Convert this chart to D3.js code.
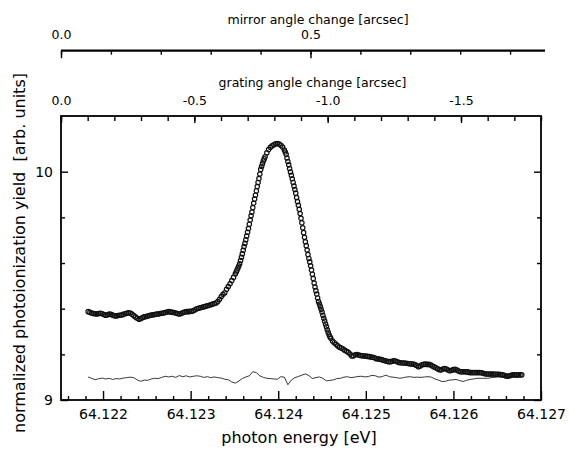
<!DOCTYPE html>
<html>
<head>
<meta charset="utf-8">
<script src="https://cdn.jsdelivr.net/npm/d3@7"></script>
<style>
  body { margin: 0; background: #fff; }
  svg text { font-family: 'DejaVu Sans', sans-serif; fill: #000; }
</style>
</head>
<body>
<svg id="chart"></svg>
<script>
const W = 569, H = 454;

// open circles: [photon energy (eV), normalized yield]
const measured = [
  [64.12183,9.387],[64.12185,9.384],[64.12187,9.381],[64.12189,9.379],[64.12191,9.378],[64.12193,9.377],[64.12195,9.379],[64.12197,9.380],[64.12199,9.378],[64.12201,9.374],
  [64.12203,9.371],[64.12205,9.373],[64.12207,9.376],[64.12209,9.375],[64.12211,9.372],[64.12213,9.369],[64.12215,9.368],[64.12217,9.370],[64.12219,9.371],[64.12221,9.372],
  [64.12223,9.375],[64.12225,9.378],[64.12227,9.380],[64.12229,9.382],[64.12231,9.381],[64.12233,9.376],[64.12235,9.370],[64.12237,9.364],[64.12239,9.358],[64.12241,9.354],
  [64.12243,9.356],[64.12245,9.361],[64.12247,9.364],[64.12249,9.366],[64.12251,9.368],[64.12253,9.370],[64.12255,9.372],[64.12257,9.373],[64.12259,9.374],[64.12261,9.376],
  [64.12263,9.377],[64.12265,9.379],[64.12267,9.380],[64.12269,9.381],[64.12271,9.383],[64.12273,9.385],[64.12275,9.387],[64.12277,9.386],[64.12279,9.384],[64.12281,9.383],
  [64.12283,9.381],[64.12285,9.379],[64.12287,9.377],[64.12289,9.379],[64.12291,9.382],[64.12293,9.385],[64.12295,9.387],[64.12297,9.387],[64.12299,9.388],[64.12301,9.389],
  [64.12303,9.391],[64.12305,9.395],[64.12307,9.400],[64.12309,9.402],[64.12311,9.404],[64.12313,9.406],[64.12315,9.408],[64.12317,9.410],[64.12319,9.413],[64.12321,9.415],
  [64.12323,9.417],[64.12325,9.420],[64.12327,9.423],[64.12329,9.425],[64.12331,9.431],[64.12333,9.441],[64.12335,9.453],[64.12337,9.463],
  [64.12339,9.470],[64.12341,9.485],[64.12343,9.497],[64.12345,9.509],[64.12347,9.523],[64.12349,9.537],[64.12351,9.552],
  [64.12352,9.561],[64.12353,9.569],[64.12354,9.578],[64.12355,9.587],[64.12356,9.597],[64.12357,9.611],[64.12358,9.625],[64.12359,9.640],[64.12360,9.656],
  [64.12361,9.672],[64.12362,9.686],[64.12363,9.702],[64.12364,9.718],[64.12365,9.735],[64.12366,9.751],[64.12367,9.770],[64.12368,9.788],[64.12369,9.807],
  [64.12370,9.823],[64.12371,9.843],[64.12372,9.862],[64.12373,9.880],[64.12374,9.897],[64.12375,9.916],[64.12376,9.935],[64.12377,9.953],[64.12378,9.970],
  [64.12379,9.990],[64.12380,10.010],[64.12381,10.023],[64.12382,10.035],[64.12383,10.047],[64.12384,10.056],[64.12385,10.065],
  [64.12387,10.083],[64.12389,10.097],[64.12391,10.107],[64.12393,10.113],[64.12395,10.118],[64.12397,10.122],[64.12399,10.123],
  [64.12401,10.121],[64.12403,10.116],[64.12405,10.108],[64.12407,10.095],
  [64.12408,10.086],[64.12409,10.076],[64.12410,10.060],[64.12411,10.045],[64.12412,10.030],[64.12413,10.014],[64.12414,9.999],[64.12415,9.984],
  [64.12416,9.969],[64.12417,9.953],[64.12418,9.937],[64.12419,9.922],[64.12420,9.906],[64.12421,9.887],[64.12422,9.869],[64.12423,9.853],
  [64.12424,9.835],[64.12425,9.817],[64.12426,9.796],[64.12427,9.776],[64.12428,9.754],[64.12429,9.733],[64.12430,9.713],[64.12431,9.693],
  [64.12432,9.676],[64.12433,9.657],[64.12434,9.637],[64.12435,9.620],[64.12436,9.605],[64.12437,9.588],[64.12438,9.569],[64.12439,9.551],
  [64.12440,9.532],[64.12441,9.512],[64.12442,9.495],[64.12443,9.479],[64.12444,9.464],[64.12445,9.447],[64.12446,9.431],[64.12447,9.420],
  [64.12448,9.409],[64.12449,9.397],[64.12450,9.385],[64.12451,9.371],[64.12452,9.358],[64.12453,9.346],[64.12454,9.333],[64.12455,9.321],
  [64.12456,9.308],[64.12457,9.297],[64.12458,9.286],[64.12459,9.277],[64.12460,9.270],
  [64.12462,9.258],[64.12464,9.251],[64.12466,9.244],[64.12468,9.237],[64.12470,9.231],[64.12472,9.228],[64.12474,9.223],[64.12476,9.218],[64.12478,9.213],[64.12480,9.209],
  [64.12482,9.201],[64.12484,9.193],[64.12486,9.194],[64.12488,9.198],[64.12490,9.199],[64.12492,9.197],[64.12494,9.195],[64.12496,9.194],[64.12498,9.193],[64.12500,9.193],
  [64.12502,9.191],[64.12504,9.190],[64.12506,9.188],[64.12508,9.187],[64.12510,9.185],[64.12512,9.181],[64.12514,9.180],[64.12516,9.178],[64.12518,9.177],[64.12520,9.174],
  [64.12522,9.172],[64.12524,9.170],[64.12526,9.168],[64.12528,9.168],[64.12530,9.170],[64.12532,9.172],[64.12534,9.171],[64.12536,9.167],[64.12538,9.164],[64.12540,9.163],
  [64.12542,9.162],[64.12544,9.162],[64.12546,9.161],[64.12548,9.160],[64.12550,9.159],[64.12552,9.158],[64.12554,9.158],[64.12556,9.155],[64.12558,9.151],[64.12560,9.146],
  [64.12562,9.149],[64.12564,9.154],[64.12566,9.156],[64.12568,9.157],[64.12570,9.156],[64.12572,9.156],[64.12574,9.154],[64.12576,9.149],[64.12578,9.145],[64.12580,9.141],
  [64.12582,9.137],[64.12584,9.133],[64.12586,9.132],[64.12588,9.136],[64.12590,9.138],[64.12592,9.136],[64.12594,9.131],[64.12596,9.128],[64.12598,9.130],[64.12600,9.133],
  [64.12602,9.134],[64.12604,9.131],[64.12606,9.127],[64.12608,9.124],[64.12610,9.124],[64.12612,9.124],[64.12614,9.124],[64.12616,9.123],[64.12618,9.121],[64.12620,9.120],
  [64.12622,9.120],[64.12624,9.120],[64.12626,9.120],[64.12628,9.120],[64.12630,9.120],[64.12632,9.119],[64.12634,9.117],[64.12636,9.115],[64.12638,9.114],[64.12640,9.114],
  [64.12642,9.114],[64.12644,9.114],[64.12646,9.114],[64.12648,9.113],[64.12650,9.113],[64.12652,9.113],[64.12654,9.112],[64.12656,9.110],[64.12658,9.108],[64.12660,9.105],
  [64.12662,9.104],[64.12664,9.106],[64.12666,9.108],[64.12668,9.110],[64.12670,9.110],[64.12672,9.109],[64.12674,9.110],[64.12676,9.110],[64.12678,9.110]
];

// thin trace near the bottom
const trace = [
  [64.12183,9.101],[64.12187,9.095],[64.12191,9.089],[64.12195,9.093],[64.12199,9.096],[64.12203,9.092],[64.12207,9.095],[64.12211,9.090],[64.12215,9.094],[64.12219,9.092],
  [64.12223,9.096],[64.12227,9.098],[64.12231,9.100],[64.12235,9.098],[64.12239,9.088],[64.12243,9.082],[64.12247,9.087],[64.12251,9.086],[64.12255,9.092],[64.12259,9.095],
  [64.12263,9.094],[64.12267,9.099],[64.12271,9.104],[64.12275,9.101],[64.12279,9.104],[64.12283,9.099],[64.12287,9.107],[64.12291,9.102],[64.12295,9.106],[64.12299,9.101],
  [64.12303,9.104],[64.12307,9.106],[64.12311,9.104],[64.12315,9.099],[64.12319,9.102],[64.12323,9.098],[64.12327,9.101],[64.12331,9.098],[64.12335,9.096],[64.12339,9.091],
  [64.12343,9.089],[64.12347,9.079],[64.12351,9.074],[64.12355,9.083],[64.12359,9.094],[64.12363,9.101],[64.12367,9.106],[64.12371,9.124],[64.12375,9.120],[64.12379,9.106],
  [64.12383,9.099],[64.12387,9.095],[64.12391,9.094],[64.12395,9.092],[64.12399,9.091],[64.12403,9.102],[64.12407,9.100],[64.12411,9.067],[64.12415,9.087],[64.12419,9.098],
  [64.12423,9.103],[64.12427,9.109],[64.12431,9.114],[64.12435,9.107],[64.12439,9.094],[64.12443,9.098],[64.12447,9.101],[64.12451,9.095],[64.12455,9.084],[64.12459,9.086],
  [64.12463,9.088],[64.12467,9.094],[64.12471,9.095],[64.12475,9.100],[64.12479,9.102],[64.12483,9.098],[64.12487,9.100],[64.12491,9.103],[64.12495,9.104],[64.12499,9.101],
  [64.12503,9.103],[64.12507,9.108],[64.12511,9.106],[64.12515,9.100],[64.12519,9.103],[64.12523,9.109],[64.12527,9.102],[64.12531,9.100],[64.12535,9.098],[64.12539,9.095],
  [64.12543,9.098],[64.12547,9.101],[64.12551,9.102],[64.12555,9.099],[64.12559,9.100],[64.12563,9.099],[64.12567,9.101],[64.12571,9.102],[64.12575,9.100],[64.12579,9.092],
  [64.12583,9.087],[64.12587,9.081],[64.12591,9.082],[64.12595,9.087],[64.12599,9.088],[64.12603,9.090],[64.12607,9.085],[64.12611,9.081],[64.12615,9.086],[64.12619,9.090],
  [64.12623,9.092],[64.12627,9.095],[64.12631,9.095],[64.12635,9.095],[64.12639,9.095],[64.12643,9.098],[64.12647,9.099],[64.12651,9.101],[64.12655,9.100],[64.12659,9.102],
  [64.12663,9.103],[64.12667,9.102],[64.12671,9.104],[64.12675,9.105]
];

const energyMajor = [64.122, 64.123, 64.124, 64.125, 64.126, 64.127];
const yieldMajor = [9, 10];
const yieldMinor = [9.2, 9.4, 9.6, 9.8];
const gratingMajor = [0, -0.5, -1.0, -1.5];
const mirrorMajor = [0, 0.5];

const svg = d3.select('#chart').attr('width', W).attr('height', H);
svg.append('rect').attr('width', W).attr('height', H).attr('fill', '#fff');

const padL = 61, padR = 541, padT = 116, padB = 400;

const x = d3.scaleLinear().domain([64.12152, 64.127]).range([padL, padR]);
const y = d3.scaleLinear().domain([9, 10.244]).range([padB, padT]);
const xGrat = d3.scaleLinear().domain([0, -1.8]).range([padL, padR]);
const xMirr = d3.scaleLinear().domain([0, 0.97]).range([padL, 545]);

const energyMinor = d3.range(64.1216, 64.12695, 0.0002).filter(v => Math.abs(Math.round(v * 1000) - v * 1000) > 1e-6);
const gratingMinor = d3.range(0, -1.85, -0.1);
const mirrorMinor = d3.range(0, 0.95, 0.1);

function styleAxis(g, size) {
  g.attr('font-family', "'DejaVu Sans', sans-serif").attr('font-size', size);
  g.selectAll('line').attr('stroke', '#000').attr('stroke-width', 1.4);
  g.select('.domain').remove();
}

// bottom energy axis (ticks inward)
svg.append('g').attr('transform', `translate(0,${padB})`)
  .call(d3.axisBottom(x).tickValues(energyMinor).tickSize(-4).tickFormat(''))
  .call(g => styleAxis(g, 14));
svg.append('g').attr('transform', `translate(0,${padB})`)
  .call(d3.axisBottom(x).tickValues(energyMajor).tickSize(-9).tickPadding(9).tickFormat(d3.format('.3f')))
  .call(g => styleAxis(g, 14));

// left & right yield axes
svg.append('g').attr('transform', `translate(${padL},0)`)
  .call(d3.axisLeft(y).tickValues(yieldMinor).tickSize(-4).tickFormat(''))
  .call(g => styleAxis(g, 14));
svg.append('g').attr('transform', `translate(${padL},0)`)
  .call(d3.axisLeft(y).tickValues(yieldMajor).tickSize(-7).tickPadding(8).tickFormat(d3.format('d')))
  .call(g => styleAxis(g, 14));
svg.append('g').attr('transform', `translate(${padR},0)`)
  .call(d3.axisRight(y).tickValues(yieldMinor).tickSize(-4).tickFormat(''))
  .call(g => styleAxis(g, 14));
svg.append('g').attr('transform', `translate(${padR},0)`)
  .call(d3.axisRight(y).tickValues(yieldMajor).tickSize(-7).tickFormat(''))
  .call(g => styleAxis(g, 14));

// grating axis on the top of the frame
svg.append('g').attr('transform', `translate(0,${padT})`)
  .call(d3.axisTop(xGrat).tickValues(gratingMinor).tickSize(-5).tickFormat(''))
  .call(g => styleAxis(g, 12.5));
svg.append('g').attr('transform', `translate(0,${padT})`)
  .call(d3.axisTop(xGrat).tickValues(gratingMajor).tickSize(-7).tickPadding(11).tickFormat(d => d.toFixed(1)))
  .call(g => styleAxis(g, 12.5));

// mirror axis, free standing line
const mirrorY = 50.7;
svg.append('line').attr('x1', xMirr(0)).attr('x2', xMirr(0.97))
  .attr('y1', mirrorY).attr('y2', mirrorY).attr('stroke', '#000').attr('stroke-width', 2.2);
svg.append('g').attr('transform', `translate(0,${mirrorY})`)
  .call(d3.axisTop(xMirr).tickValues(mirrorMinor).tickSize(-4).tickFormat(''))
  .call(g => styleAxis(g, 12.5));
svg.append('g').attr('transform', `translate(0,${mirrorY})`)
  .call(d3.axisTop(xMirr).tickValues(mirrorMajor).tickSize(-7.5).tickPadding(11.4).tickFormat(d => d.toFixed(1)))
  .call(g => styleAxis(g, 12.5));

// axis titles
svg.append('text').attr('x', 318).attr('y', 23.5).attr('text-anchor', 'middle')
  .attr('font-size', 12.5).text('mirror angle change [arcsec]');
svg.append('text').attr('x', 312.5).attr('y', 86.5).attr('text-anchor', 'middle')
  .attr('font-size', 12.5).text('grating angle change [arcsec]');
svg.append('text').attr('x', 299).attr('y', 443).attr('text-anchor', 'middle')
  .attr('font-size', 16).text('photon energy [eV]');
svg.append('text').attr('transform', 'translate(25,253) rotate(-90)').attr('text-anchor', 'middle')
  .attr('font-size', 16).style('white-space', 'pre')
  .text('normalized photoionization yield  [arb. units]');

// thin trace
svg.append('path').datum(trace)
  .attr('fill', 'none').attr('stroke', '#222').attr('stroke-width', 0.9)
  .attr('d', d3.line().x(d => x(d[0])).y(d => y(d[1])));

// open circles
svg.append('g').selectAll('circle').data(measured).enter().append('circle')
  .attr('cx', d => x(d[0])).attr('cy', d => y(d[1])).attr('r', 2.2)
  .attr('fill', 'none').attr('stroke', '#111').attr('stroke-width', 1.2);

// frame
svg.append('rect').attr('x', padL).attr('y', padT).attr('width', padR - padL).attr('height', padB - padT)
  .attr('fill', 'none').attr('stroke', '#000').attr('stroke-width', 1.8);
</script>
</body>
</html>
